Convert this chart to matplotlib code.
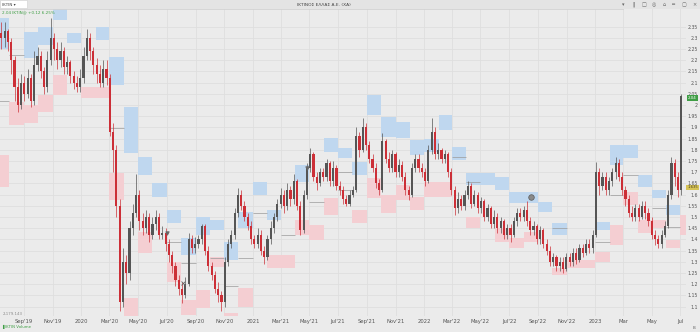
import matplotlib

matplotlib.use("Agg")

import matplotlib.dates as mdates
import matplotlib.pyplot as plt
import numpy as np
import pandas as pd
from matplotlib.patches import Rectangle

plt.rcParams["font.family"] = ["DejaVu Sans"]

TITLE = "ΙΚΤΙΝΟΣ ΕΛΛΑΣ Α.Ε. (ΧΑ)"
TICKER = "ΙΚΤΙΝ"
FIRST_WEEK = "2019-07-15"
X_START = "2019-07-12"
X_END = "2023-07-13"

# weekly closes
closes = [
    2.30, 2.33, 2.28, 2.20, 2.08, 2.00, 2.10, 2.05, 2.12, 2.02,
    2.18, 2.22, 2.15, 2.08, 2.20, 2.30, 2.25, 2.20, 2.24, 2.17,
    2.19, 2.13, 2.10, 2.08, 2.12, 2.22, 2.30, 2.24, 2.18, 2.14,
    2.10, 2.16, 2.12, 1.88, 1.80, 1.55, 1.12, 1.30, 1.25, 1.45,
    1.52, 1.60, 1.48, 1.45, 1.50, 1.42, 1.47, 1.50, 1.42, 1.43,
    1.38, 1.33, 1.28, 1.22, 1.18, 1.15, 1.20, 1.40, 1.36, 1.38,
    1.40, 1.46, 1.35, 1.28, 1.24, 1.18, 1.15, 1.12, 1.30, 1.38,
    1.42, 1.52, 1.60, 1.55, 1.50, 1.46, 1.40, 1.38, 1.42, 1.35,
    1.32, 1.40, 1.45, 1.50, 1.56, 1.60, 1.55, 1.62, 1.58, 1.66,
    1.55, 1.44, 1.60, 1.72, 1.78, 1.68, 1.65, 1.70, 1.68, 1.74,
    1.66, 1.72, 1.64, 1.62, 1.58, 1.56, 1.60, 1.62, 1.86, 1.80,
    1.90, 1.82, 1.76, 1.72, 1.65, 1.62, 1.84, 1.76, 1.72, 1.78,
    1.70, 1.73, 1.68, 1.62, 1.60, 1.72, 1.76, 1.72, 1.70, 1.66,
    1.80, 1.88, 1.78, 1.80, 1.76, 1.78, 1.70, 1.62, 1.54, 1.58,
    1.55, 1.60, 1.64, 1.56, 1.60, 1.54, 1.57, 1.50, 1.54, 1.47,
    1.50, 1.45, 1.48, 1.42, 1.45, 1.42, 1.48, 1.52, 1.50, 1.53,
    1.48, 1.44, 1.46, 1.40, 1.44, 1.38, 1.35, 1.30, 1.32, 1.28,
    1.30, 1.27, 1.32, 1.30, 1.34, 1.31, 1.36, 1.34, 1.38, 1.36,
    1.42, 1.70, 1.64, 1.68, 1.62, 1.66, 1.70, 1.74, 1.68, 1.62,
    1.58, 1.52, 1.50, 1.54, 1.50, 1.55, 1.52, 1.48, 1.42, 1.40,
    1.38, 1.42, 1.46, 1.60, 1.74, 1.68, 1.62, 2.04,
]
first_open = 2.32

highs = [
    2.37, 2.37, 2.34, 2.30, 2.22, 2.12, 2.14, 2.13, 2.16, 2.14,
    2.24, 2.26, 2.24, 2.17, 2.24, 2.39, 2.32, 2.28, 2.28, 2.26,
    2.22, 2.20, 2.15, 2.13, 2.16, 2.26, 2.34, 2.32, 2.26, 2.21,
    2.18, 2.20, 2.20, 2.14, 1.92, 1.82, 1.58, 1.36, 1.33, 1.48,
    1.56, 1.69, 1.62, 1.52, 1.53, 1.52, 1.50, 1.53, 1.52, 1.46,
    1.45, 1.40, 1.35, 1.30, 1.24, 1.21, 1.23, 1.43, 1.42, 1.41,
    1.42, 1.47, 1.47, 1.37, 1.30, 1.26, 1.21, 1.17, 1.32, 1.40,
    1.44, 1.54, 1.63, 1.62, 1.57, 1.52, 1.48, 1.42, 1.45, 1.44,
    1.37, 1.42, 1.48, 1.52, 1.58, 1.63, 1.62, 1.65, 1.64, 1.69,
    1.67, 1.57, 1.62, 1.74, 1.81, 1.79, 1.70, 1.72, 1.72, 1.76,
    1.75, 1.75, 1.73, 1.66, 1.64, 1.60, 1.62, 1.64, 1.90, 1.88,
    1.94, 1.92, 1.84, 1.78, 1.74, 1.67, 1.875, 1.85, 1.79, 1.80,
    1.79, 1.76, 1.75, 1.70, 1.64, 1.74, 1.78, 1.78, 1.74, 1.72,
    1.82, 1.94, 1.90, 1.83, 1.81, 1.80, 1.79, 1.72, 1.64, 1.61,
    1.60, 1.62, 1.66, 1.65, 1.62, 1.61, 1.59, 1.58, 1.56, 1.55,
    1.53, 1.52, 1.50, 1.49, 1.47, 1.47, 1.50, 1.54, 1.54, 1.55,
    1.57, 1.50, 1.48, 1.47, 1.46, 1.45, 1.40, 1.37, 1.34, 1.33,
    1.32, 1.32, 1.34, 1.34, 1.36, 1.36, 1.38, 1.38, 1.40, 1.40,
    1.44, 1.745, 1.72, 1.70, 1.70, 1.68, 1.72, 1.77, 1.76, 1.70,
    1.64, 1.60, 1.55, 1.56, 1.56, 1.57, 1.57, 1.54, 1.50, 1.44,
    1.42, 1.44, 1.48, 1.62, 1.77, 1.76, 1.70, 2.05,
]

lows = [
    2.25, 2.26, 2.24, 2.14, 2.02, 1.97, 1.98, 2.02, 2.03, 1.99,
    2.00, 2.15, 2.12, 2.05, 2.06, 2.18, 2.20, 2.16, 2.17, 2.14,
    2.14, 2.10, 2.07, 2.06, 2.06, 2.10, 2.20, 2.20, 2.14, 2.10,
    2.08, 2.08, 2.09, 1.86, 1.70, 1.50, 1.08, 1.10, 1.20, 1.22,
    1.42, 1.50, 1.44, 1.42, 1.43, 1.39, 1.40, 1.44, 1.40, 1.40,
    1.35, 1.30, 1.25, 1.19, 1.15, 1.115, 1.14, 1.19, 1.34, 1.34,
    1.36, 1.38, 1.33, 1.26, 1.22, 1.16, 1.12, 1.08, 1.10, 1.28,
    1.36, 1.40, 1.50, 1.53, 1.48, 1.44, 1.38, 1.36, 1.36, 1.33,
    1.29, 1.31, 1.38, 1.43, 1.48, 1.54, 1.52, 1.53, 1.55, 1.56,
    1.53, 1.42, 1.43, 1.58, 1.70, 1.66, 1.62, 1.64, 1.66, 1.66,
    1.64, 1.64, 1.62, 1.60, 1.56, 1.55, 1.55, 1.59, 1.61, 1.77,
    1.79, 1.80, 1.74, 1.70, 1.63, 1.60, 1.61, 1.74, 1.70, 1.70,
    1.68, 1.68, 1.66, 1.60, 1.575, 1.59, 1.70, 1.70, 1.68, 1.64,
    1.65, 1.78, 1.76, 1.76, 1.74, 1.74, 1.68, 1.60, 1.51, 1.52,
    1.53, 1.53, 1.58, 1.54, 1.55, 1.52, 1.52, 1.48, 1.48, 1.45,
    1.45, 1.43, 1.43, 1.40, 1.40, 1.39, 1.41, 1.46, 1.48, 1.48,
    1.46, 1.42, 1.42, 1.38, 1.38, 1.36, 1.33, 1.28, 1.28, 1.26,
    1.26, 1.25, 1.26, 1.28, 1.28, 1.29, 1.30, 1.32, 1.33, 1.34,
    1.34, 1.41, 1.60, 1.62, 1.60, 1.60, 1.64, 1.67, 1.66, 1.60,
    1.55, 1.50, 1.48, 1.48, 1.48, 1.49, 1.49, 1.46, 1.40, 1.375,
    1.36, 1.36, 1.41, 1.45, 1.58, 1.64, 1.59, 1.60,
]

# monthly supply zones (blue)
supply_months = [
    "2019-07", "2019-09", "2019-10", "2019-11", "2019-12", "2020-02", "2020-03",
    "2020-04", "2020-05", "2020-06", "2020-07", "2020-08", "2020-09", "2020-10",
    "2020-11", "2020-12", "2021-01", "2021-02", "2021-04", "2021-06", "2021-07",
    "2021-08", "2021-09", "2021-10", "2021-11", "2021-12", "2022-01", "2022-02",
    "2022-03", "2022-04", "2022-05", "2022-06", "2022-07", "2022-08", "2022-09",
    "2022-10", "2023-01", "2023-02", "2023-03", "2023-04", "2023-05", "2023-06",
]
supply_low = [
    2.25, 2.21, 2.268, 2.38, 2.277, 2.29, 2.089,
    1.786, 1.6875, 1.589, 1.473, 1.33, 1.42, 1.442,
    1.308, 1.451, 1.598, 1.487, 1.656, 1.79, 1.763,
    1.6875, 1.955, 1.857, 1.853, 1.777, 1.79, 1.888,
    1.754, 1.643, 1.643, 1.62, 1.5625, 1.5625, 1.522,
    1.42, 1.442, 1.732, 1.763, 1.634, 1.585, 1.509,
]
supply_high = [
    2.39, 2.326, 2.348, 2.43, 2.321, 2.348, 2.214,
    1.991, 1.768, 1.652, 1.531, 1.406, 1.50, 1.487,
    1.388, 1.522, 1.656, 1.531, 1.732, 1.853, 1.808,
    1.746, 2.045, 1.946, 1.924, 1.844, 1.85, 1.955,
    1.8125, 1.696, 1.696, 1.679, 1.612, 1.612, 1.567,
    1.473, 1.478, 1.82, 1.82, 1.6875, 1.62, 1.554,
]

# monthly demand zones (red)
demand_months = [
    "2019-07", "2019-08", "2019-09", "2019-10", "2019-11", "2020-01", "2020-02",
    "2020-03", "2020-04", "2020-05", "2020-07", "2020-08", "2020-09", "2020-10",
    "2020-11", "2020-12", "2021-02", "2021-03", "2021-04", "2021-05", "2021-06",
    "2021-08", "2021-09", "2021-10", "2021-11", "2021-12", "2022-01", "2022-02",
    "2022-04", "2022-06", "2022-07", "2022-08", "2022-10", "2022-11", "2022-12",
    "2023-01", "2023-02", "2023-03", "2023-04", "2023-05", "2023-06", "2023-07",
]
demand_low = [
    1.634, 1.91, 1.92, 1.969, 2.045, 2.031, 2.031,
    1.576, 1.054, 1.339, 1.21, 1.0625, 1.094, 1.277,
    1.049, 1.098, 1.272, 1.272, 1.42, 1.397, 1.509,
    1.473, 1.585, 1.518, 1.576, 1.531, 1.589, 1.589,
    1.45, 1.388, 1.362, 1.388, 1.241, 1.272, 1.272,
    1.30, 1.375, 1.554, 1.429, 1.45, 1.362, 1.42,
]
demand_high = [
    1.777, 2.013, 2.00, 2.045, 2.134, 2.08, 2.08,
    1.696, 1.138, 1.433, 1.30, 1.13, 1.174, 1.321,
    1.071, 1.183, 1.33, 1.33, 1.487, 1.464, 1.585,
    1.531, 1.674, 1.598, 1.643, 1.589, 1.656, 1.656,
    1.50, 1.45, 1.406, 1.433, 1.272, 1.308, 1.308,
    1.344, 1.464, 1.612, 1.487, 1.487, 1.397, 1.509,
]

# monthly reference levels
level_months = [
    "2019-07", "2019-08", "2020-03", "2020-07", "2020-08", "2020-10", "2020-11",
    "2020-12", "2021-01", "2021-03", "2021-05", "2021-07", "2021-07", "2022-03",
    "2022-04", "2022-10", "2023-01", "2023-02", "2023-03", "2023-05", "2023-06",
]
level_prices = [
    2.02, 2.223, 1.897, 1.39, 1.295, 1.317, 1.19,
    1.317, 1.52, 1.42, 1.567, 1.70, 1.62, 1.77,
    1.656, 1.45, 1.388, 1.598, 1.6875, 1.54, 1.455,
]

# event markers
event_dates = ["2020-07-01", "2020-08-05", "2021-04-27"]
event_prices = [1.43, 1.205, 1.72]
event_symbols = ["v", "x", "v"]
dividend_date = "2022-08-17"
dividend_price = 1.589

ref_level = 1.635
day_change = "+0.12 6.25%"

y_ticks = [round(1.10 + 0.05 * k, 2) for k in range(26)]
Y_MIN, Y_MAX = 1.058, 2.4286

BG = "#ebebeb"
GRID = "#dedede"
BLUE = "#bfd7ef"
PINK = "#f4ced2"
UP = "#555555"
DOWN = "#cc2f37"


def month_span(month):
    period = pd.Period(month, "M")
    start = mdates.date2num(period.start_time)
    end = mdates.date2num((period + 1).start_time)
    return start, end


def draw_zones(ax, months, low, high, color):
    for month, lo, hi in zip(months, low, high):
        start, end = month_span(month)
        ax.add_patch(Rectangle((start, lo), end - start, hi - lo,
                               facecolor=color, edgecolor="none", zorder=1))


def draw_candles(ax, dates, opens, highs_, lows_, closes_):
    x = mdates.date2num(dates)
    for xi, o, h, l, c in zip(x, opens, highs_, lows_, closes_):
        color = UP if c >= o else DOWN
        top = max(o, c)
        bottom = min(o, c)
        ax.vlines(xi, min(l, bottom), max(h, top), color=color, lw=0.5, zorder=3)
        ax.bar(xi, max(top - bottom, 0.004), bottom=bottom, width=4.6,
               color=color, edgecolor="none", zorder=4)


def tick_label(ts):
    if ts.month == 1:
        return str(ts.year)
    if ts.year == 2023:
        return ts.strftime("%b")
    return ts.strftime("%b'%y")


def main():
    dates = pd.date_range(FIRST_WEEK, periods=len(closes), freq="7D")
    opens = [first_open] + closes[:-1]

    fig = plt.figure(figsize=(7.0, 3.32), dpi=100)
    fig.patch.set_facecolor(BG)
    ax = fig.add_axes([0.0, 16 / 332, 686 / 700, 307 / 332])
    ax.set_facecolor(BG)

    draw_zones(ax, supply_months, supply_low, supply_high, BLUE)
    draw_zones(ax, demand_months, demand_low, demand_high, PINK)

    for month, price in zip(level_months, level_prices):
        start, end = month_span(month)
        ax.hlines(price, start, end, color="#9a9a9a", lw=0.5, zorder=2)

    draw_candles(ax, dates, opens, highs, lows, closes)

    for d, p, s in zip(event_dates, event_prices, event_symbols):
        ax.plot(mdates.date2num(pd.Timestamp(d)), p, marker=s, ms=2.5,
                color="#666666", mew=0.6, ls="none", zorder=5)
    ax.plot(mdates.date2num(pd.Timestamp(dividend_date)), dividend_price,
            marker="o", ms=4, mfc="#8a8a8a", mec="#5a5a5a", mew=0.5, zorder=5)

    ax.set_xlim(mdates.date2num(pd.Timestamp(X_START)),
                mdates.date2num(pd.Timestamp(X_END)))
    ax.set_ylim(Y_MIN, Y_MAX)

    tick_dates = pd.date_range("2019-09-01", "2023-07-01", freq="2MS")
    ax.set_xticks(mdates.date2num(tick_dates))
    ax.set_xticklabels([tick_label(t) for t in tick_dates])
    ax.tick_params(axis="x", length=0, pad=2.5, labelsize=3.8, labelcolor="#555555")

    ax.yaxis.tick_right()
    ax.set_yticks(y_ticks)
    ax.set_yticklabels([f"{v:.2f}".rstrip("0").rstrip(".") for v in y_ticks])
    ax.tick_params(axis="y", length=0, pad=8.6, labelsize=3.3, labelcolor="#555555")
    for lab in ax.get_yticklabels():
        lab.set_horizontalalignment("right")

    ax.grid(True, color=GRID, lw=0.6, zorder=0)
    ax.set_axisbelow(True)
    for spine in ax.spines.values():
        spine.set_visible(False)

    # price tags on the right axis
    last = closes[-1]
    ax.annotate(f"{last:.2f}", xy=(1.0, last), xycoords=("axes fraction", "data"),
                xytext=(1.4, -1.6), textcoords="offset points", fontsize=2.9,
                color="white", va="center", ha="left", zorder=10,
                bbox=dict(boxstyle="square,pad=0.25", fc="#3f9e45", ec="none"))
    ax.annotate(f"{ref_level:.3f}", xy=(1.0, ref_level),
                xycoords=("axes fraction", "data"), xytext=(1.0, -0.5),
                textcoords="offset points", fontsize=2.7, color="#4a4020",
                va="center", ha="left", zorder=10,
                bbox=dict(boxstyle="square,pad=0.25", fc="#d6c356", ec="none"))

    # header strip
    fig.patches.append(Rectangle((0, 323 / 332), 1, 9 / 332, transform=fig.transFigure,
                                 facecolor="#e4e4e4", edgecolor="none"))
    fig.lines.append(plt.Line2D([0, 0.89], [323 / 332, 323 / 332],
                                transform=fig.transFigure, color="#d2d2d2", lw=0.6))
    fig.patches.append(Rectangle((0, 324 / 332), 27 / 700, 8 / 332,
                                 transform=fig.transFigure, facecolor="white",
                                 edgecolor="#d0d0d0", lw=0.4))
    fig.text(2 / 700, 327.5 / 332, f"{TICKER} ▾", fontsize=3.0, color="#444444",
             va="center")
    fig.text(297 / 700, 327.5 / 332, TITLE, fontsize=3.2, color="#444444", va="center")
    for k, glyph in enumerate(["▾", "‖", "□", "◎", "⌂", "═", "▢", "×"]):
        fig.text((623 + k * 10.2) / 700, 327.5 / 332, glyph, fontsize=3.6,
                 color="#666666", va="center", ha="center")

    fig.text(2 / 700, 320 / 332, f"{last:.2f} {TICKER}@ {day_change}", fontsize=3.0,
             color="#3f9e45", va="center")
    fig.text(3 / 700, 18 / 332, "2,179.143", fontsize=2.8, color="#8a8a8a",
             va="center")
    fig.text(2 / 700, 5 / 332, f"▌{TICKER} Volume", fontsize=2.8, color="#3f9e45",
             va="center")
    fig.text(693 / 700, 4 / 332, "B", fontsize=3.0, color="#666666", va="center")

    fig.savefig("out.png", dpi=100, facecolor=BG)
    plt.close(fig)


if __name__ == "__main__":
    main()
